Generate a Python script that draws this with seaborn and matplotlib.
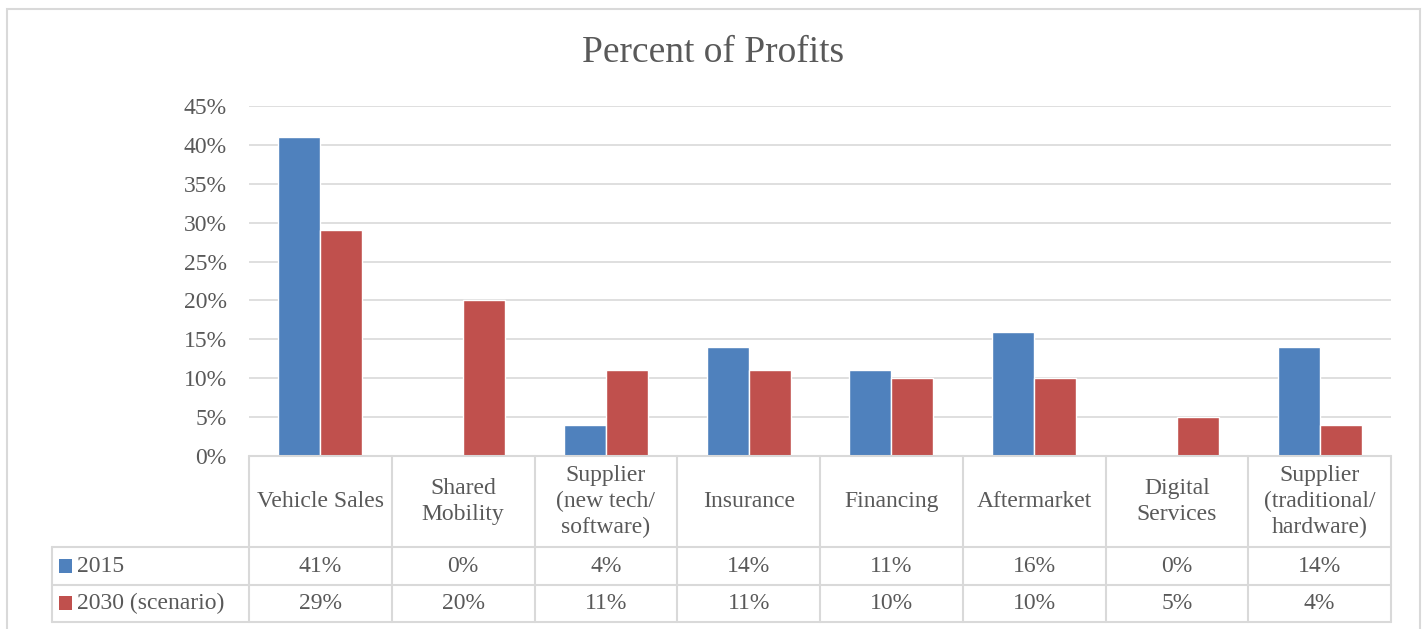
import pandas as pd
import matplotlib.pyplot as plt
import seaborn as sns
from matplotlib.ticker import FuncFormatter
from matplotlib.patches import Rectangle

# data (percent of profits)
categories = ['Vehicle Sales', 'Shared\nMobility', 'Supplier\n(new tech/\nsoftware)', 'Insurance',
              'Financing', 'Aftermarket', 'Digital\nServices', 'Supplier\n(traditional/\nhardware)']
series_names = ['2015', '2030 (scenario)']
values_2015 = [41, 0, 4, 14, 11, 16, 0, 14]
values_2030 = [29, 20, 11, 11, 10, 10, 5, 4]
colors = ['#4F81BD', '#C0504D']

sns.set_style("white")
plt.rcParams['font.family'] = ['Liberation Serif', 'DejaVu Serif']

df = pd.DataFrame({
    'category': categories * 2,
    'series': [series_names[0]] * len(categories) + [series_names[1]] * len(categories),
    'value': [v / 100 for v in values_2015 + values_2030],
})

fig = plt.figure(figsize=(14.26, 6.29), dpi=100)
ax = fig.add_axes([249 / 1426, 1 - 456 / 629, (1391 - 249) / 1426, 350 / 629])

sns.barplot(data=df, x='category', y='value', hue='series', palette=colors,
            width=0.59, gap=0, ax=ax, legend=False, saturation=1)

txt = '#595959'
grid = '#D9D9D9'
fs = 17

ax.set_ylim(0, 0.45)
ax.set_yticks([i * 0.05 for i in range(10)])
ax.yaxis.set_major_formatter(FuncFormatter(lambda v, p: f"{round(v * 100)}%"))
ax.tick_params(axis='y', labelsize=fs, labelcolor=txt, length=0, pad=16)
ax.set_xticks([])
ax.set_xlim(-0.5, len(categories) - 0.5)
ax.grid(axis='y', color=grid, linewidth=1.2)
ax.set_axisbelow(True)
for s in ax.spines.values():
    s.set_visible(False)
ax.set_xlabel('')
ax.set_ylabel('')

# ---------- data table under the plot ----------
tr = ax.get_xaxis_transform()
px = 1 / 142.75          # one pixel in category units
y_head = -0.26
y_r1 = -0.3686
y_r2 = -0.474
x_left = -0.5 - 197 * px
n = len(categories)

line_kw = dict(color=grid, linewidth=1.5, clip_on=False, transform=tr)
ax.plot([-0.5, n - 0.5], [0, 0], **line_kw)
for y in [y_head, y_r1, y_r2]:
    ax.plot([x_left, n - 0.5], [y, y], **line_kw)
for i in range(n + 1):
    ax.plot([i - 0.5, i - 0.5], [0, y_r2], **line_kw)
ax.plot([x_left, x_left], [y_head, y_r2], **line_kw)

for i, cat in enumerate(categories):
    ax.text(i, y_head / 2, cat, transform=tr, ha='center', va='center', fontsize=fs,
            color=txt, linespacing=1.3)
    ax.text(i, (y_head + y_r1) / 2, f"{values_2015[i]}%", transform=tr, ha='center',
            va='center', fontsize=fs, color=txt)
    ax.text(i, (y_r1 + y_r2) / 2, f"{values_2030[i]}%", transform=tr, ha='center',
            va='center', fontsize=fs, color=txt)

# row labels with colour keys
for name, col, y0, y1 in [(series_names[0], colors[0], y_head, y_r1),
                          (series_names[1], colors[1], y_r1, y_r2)]:
    ym = (y0 + y1) / 2
    ax.add_patch(Rectangle((x_left + 7 * px, ym - 0.02), 13 * px, 0.04,
                           transform=tr, facecolor=col, edgecolor='none', clip_on=False))
    ax.text(x_left + 25 * px, ym, name, transform=tr, ha='left', va='center',
            fontsize=fs, color=txt)

# title and outer chart frame
fig.text(0.5, 1 - 53 / 629, 'Percent of Profits', ha='center', va='center',
         fontsize=27, color=txt)
fig.add_artist(Rectangle((7 / 1426, -0.05), (1420 - 7) / 1426, 1.05 - 9 / 629,
                         transform=fig.transFigure, fill=False, edgecolor=grid,
                         linewidth=1.5))

plt.savefig('out.png', dpi=100)
